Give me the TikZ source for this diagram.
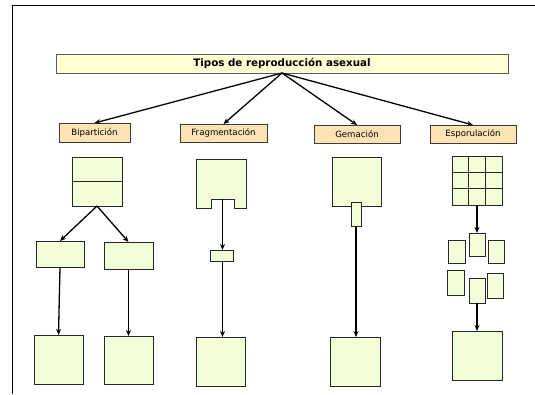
\documentclass[tikz,border=0pt]{standalone}
\usepackage{fontspec}
\setmainfont{DejaVu Sans}
\usetikzlibrary{arrows.meta,shadows}
\definecolor{titlefill}{RGB}{254,253,212}
\definecolor{labelfill}{RGB}{253,226,180}
\definecolor{cellfill}{RGB}{242,254,214}
\definecolor{edgegray}{RGB}{60,60,60}
\tikzset{
  x=1pt, y=1pt,
  shade/.style={drop shadow={shadow xshift=0.9pt, shadow yshift=-0.9pt, fill=gray!80, opacity=1}},
  titlebox/.style={draw=gray!70!black, line width=0.8pt, fill=titlefill, shade, inner sep=0pt, outer sep=0pt,
    font=\fontsize{10.3}{11}\selectfont\bfseries},
  labelbox/.style={draw=edgegray, line width=0.8pt, fill=labelfill, shade, inner sep=0pt, outer sep=0pt,
    font=\fontsize{8.6}{9}\selectfont},
  cell/.style={draw=black!85, line width=0.8pt, fill=cellfill, shade, inner sep=0pt, outer sep=0pt},
  link/.style={draw=black, line width=1.3pt, -{Stealth[length=6pt,width=5pt]}},
}
\begin{document}
\begin{tikzpicture}
\useasboundingbox (0,0) rectangle (535,-394);
% page frame
\draw[line width=1pt] (12.5,-394) -- (12.5,-5) -- (535,-5);

% title and the four categories
\node[titlebox, minimum width=452pt, minimum height=19pt] (title) at (282,-63.5) {Tipos de reproducción asexual};
\node[labelbox, minimum width=71pt, minimum height=19pt] (lab1) at (94.5,-132.5) {Bipartición};
\node[labelbox, minimum width=87pt, minimum height=18pt] (lab2) at (223.5,-133) {Fragmentación};
\node[labelbox, minimum width=86pt, minimum height=18pt] (lab3) at (357,-134) {Gemación};
\node[labelbox, minimum width=86pt, minimum height=18pt] (lab4) at (473,-134) {Esporulación};
\foreach \t in {lab1,lab2,lab3,lab4} \draw[link] (title.south) -- (\t.north);

% bipartition
\node[cell, minimum width=50pt, minimum height=49pt] (bA) at (97,-181.5) {};
\draw[black!85, line width=0.8pt] (bA.west) -- (bA.east);
\node[cell, minimum width=48pt, minimum height=26pt] (bL) at (60,-254) {};
\node[cell, minimum width=49pt, minimum height=27pt] (bR) at (128.5,-255.5) {};
\node[cell, minimum width=49pt, minimum height=49pt] (bLL) at (58.5,-359.5) {};
\node[cell, minimum width=49pt, minimum height=48pt] (bRR) at (128.5,-360) {};
\draw[link] (bA.south) -- (bL.north);
\draw[link] (bA.south) -- (bR.north);
\draw[link] (bL.south) -- (bLL.north);
\draw[link] (bR.south) -- (bRR.north);

% fragmentation
\draw[black!85, line width=0.8pt, fill=cellfill, shade]
  (196,-159) -- (246,-159) -- (246,-208) -- (234,-208) -- (234,-199)
  -- (211,-199) -- (211,-208) -- (196,-208) -- cycle;
\coordinate (fN) at (222.5,-199);
\node[cell, minimum width=23pt, minimum height=11pt] (fS) at (221.5,-255.5) {};
\node[cell, minimum width=49pt, minimum height=49pt] (fB) at (221,-361.5) {};
\draw[link] (fN) -- (fN |- fS.north);
\draw[link] (fN |- fS.south) -- (fN |- fB.north);

% budding
\node[cell, minimum width=49pt, minimum height=49pt] (gA) at (356.5,-181.5) {};
\node[cell, minimum width=10pt, minimum height=24pt] (gS) at (356,-214) {};
\node[cell, minimum width=50pt, minimum height=49pt] (gB) at (355.5,-361.5) {};
\draw[link] (gS.south) -- (gS.south |- gB.north);

% sporulation
\node[cell, minimum width=50pt, minimum height=49pt] (eA) at (477,-180.5) {};
\draw[black!85, line width=0.8pt]
  ([xshift=50/3 pt]eA.south west) -- ([xshift=50/3 pt]eA.north west)
  ([xshift=-50/3 pt]eA.south east) -- ([xshift=-50/3 pt]eA.north east)
  ([yshift=49/3 pt]eA.south west) -- ([yshift=49/3 pt]eA.south east)
  ([yshift=-49/3 pt]eA.north west) -- ([yshift=-49/3 pt]eA.north east);
\node[cell, minimum width=16pt, minimum height=23pt] (s1) at (477,-244.5) {};
\node[cell, minimum width=17pt, minimum height=23pt] (s2) at (456.5,-251.5) {};
\node[cell, minimum width=16pt, minimum height=23pt] (s3) at (496,-251.5) {};
\node[cell, minimum width=17pt, minimum height=25pt] (s4) at (455.5,-282.5) {};
\node[cell, minimum width=16pt, minimum height=25pt] (s5) at (477,-290.5) {};
\node[cell, minimum width=16pt, minimum height=25pt] (s6) at (495,-285.5) {};
\node[cell, minimum width=50pt, minimum height=49pt] (eB) at (477,-355.5) {};
\draw[link] (eA.south) -- (s1.north);
\draw[link] (s5.south) -- (eB.north);
\end{tikzpicture}
\end{document}
